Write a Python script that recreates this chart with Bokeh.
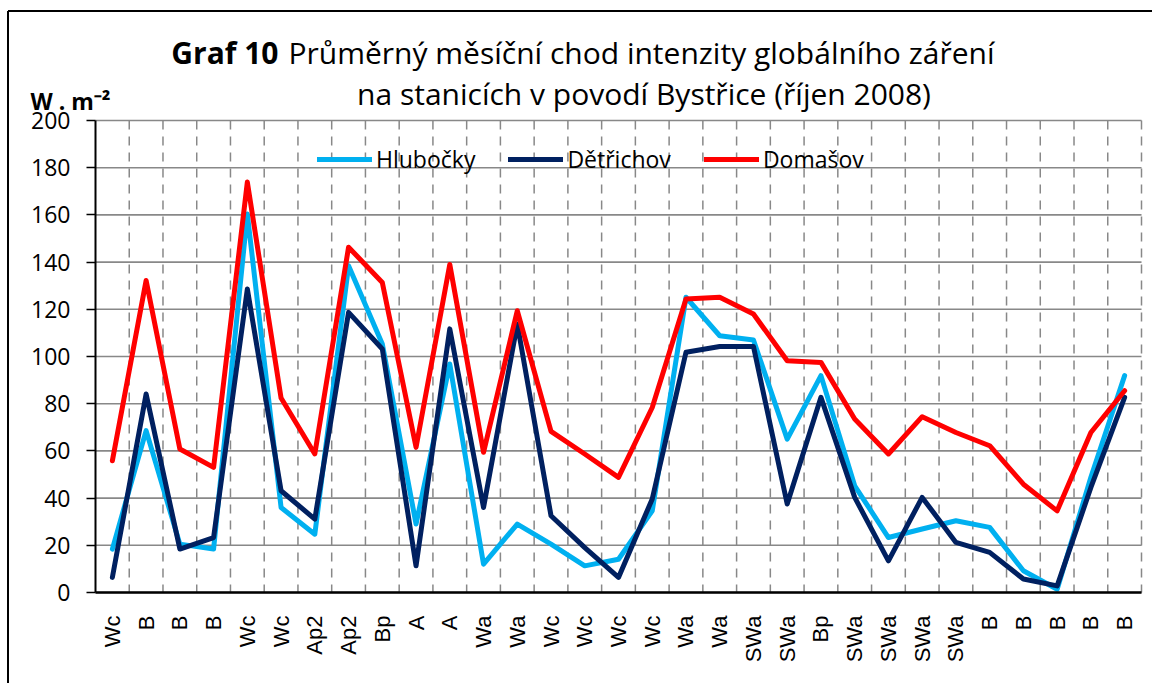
from bokeh.plotting import figure
from bokeh.models import Range1d, FixedTicker, Legend, LegendItem, ColumnDataSource
from bokeh.core.properties import value
from bokeh.embed import file_html
from bokeh.resources import INLINE
import math

# ---- data -------------------------------------------------------------
days = list(range(1, 32))
weather_types = ["Wc", "B", "B", "B", "Wc", "Wc", "Ap2", "Ap2", "Bp", "A", "A",
                 "Wa", "Wa", "Wc", "Wc", "Wc", "Wc", "Wa", "Wa", "SWa", "SWa",
                 "Bp", "SWa", "SWa", "SWa", "SWa", "B", "B", "B", "B", "B"]
hlubocky = [18.4, 68.6, 20.5, 18.4, 160.4, 36.0, 24.7, 138.5, 105.3, 29.0, 96.8,
            12.0, 29.0, 20.5, 11.3, 14.1, 34.6, 125.1, 108.8, 107.0, 65.0,
            91.9, 45.2, 23.3, 26.9, 30.4, 27.6, 9.2, 1.4, 48.8, 91.9]
detrichov = [6.4, 84.1, 18.4, 23.3, 128.6, 43.1, 31.1, 118.7, 103.2, 11.3, 111.7,
             36.0, 113.8, 32.5, 19.0, 6.4, 39.6, 101.8, 104.2, 104.2, 37.5,
             82.7, 40.3, 13.4, 40.3, 21.2, 17.0, 5.7, 2.8, 44.5, 82.7]
domasov = [55.8, 132.2, 60.8, 53.0, 173.9, 82.4, 58.7, 146.3, 131.4, 61.5, 139.0,
           59.4, 119.4, 68.3, 58.7, 48.8, 78.4, 124.4, 125.1, 118.0, 98.2,
           97.5, 73.5, 58.7, 74.5, 67.8, 62.2, 45.9, 34.6, 67.8, 85.5]
series_names = ["Hlubočky", "Dětřichov", "Domašov"]
series_colors = ["#00B0F0", "#002060", "#FF0000"]
y_ticks = list(range(0, 201, 20))

title_bold = "Graf 10"
title_rest = "Průměrný měsíční chod intenzity globálního záření"
title_line2 = "na stanicích v povodí Bystřice (říjen 2008)"
y_unit = "W . m⁻²"

# ---- layout (pixels) --------------------------------------------------
W, H = 1152, 683
FL, FR, FT, FB = 95, 1141, 120, 592       # plot-area box inside the canvas
n = len(days)
YMAX = 200.0
pxx = (FR - FL) / n
pxy = (FB - FT) / YMAX

def dx(px):
    return (px - FL) / pxx

def dy(py):
    return (FB - py) / pxy

p = figure(width=W, height=H, output_backend="svg", toolbar_location=None,
           x_range=Range1d(dx(0), dx(W)), y_range=Range1d(dy(H), dy(0)),
           min_border_left=0, min_border_right=0, min_border_top=0,
           min_border_bottom=0)
p.outline_line_color = None
p.background_fill_color = "white"
p.border_fill_color = "white"
p.xgrid.visible = False
p.ygrid.visible = False

x_centers = [d - 0.5 for d in days]

# outer chart border (left and top)
bx, by = dx(7.5), dy(10.5)
p.segment(x0=[bx, bx], y0=[by, by], x1=[bx, dx(W + 5)], y1=[dy(H + 5), by],
          line_color="black", line_width=2)

# grid lines
p.segment(x0=[0] * len(y_ticks), y0=y_ticks, x1=[n] * len(y_ticks), y1=y_ticks,
          line_color="#888888", line_width=1.6)
p.segment(x0=days, y0=[YMAX] * n, x1=days, y1=[0] * n,
          line_color="#888888", line_width=1.5, line_dash="9 7")

# axes
p.xaxis.fixed_location = 0
p.xaxis.bounds = (0, n)
p.xaxis.ticker = FixedTicker(ticks=x_centers)
p.xaxis.major_label_overrides = {x: lab for x, lab in zip(x_centers, weather_types)}
p.xaxis.major_label_orientation = math.pi / 2
p.xaxis.major_tick_line_color = None
p.xaxis.minor_tick_line_color = None
p.xaxis.axis_line_color = "black"
p.xaxis.axis_line_width = 2.5
p.xaxis.major_label_text_font = "Liberation Sans"
p.xaxis.major_label_text_font_size = "22px"
p.xaxis.major_label_text_color = "black"
p.xaxis.major_label_standoff = 17

p.yaxis.fixed_location = 0
p.yaxis.bounds = (0, YMAX)
p.yaxis.ticker = FixedTicker(ticks=y_ticks)
p.yaxis.minor_tick_line_color = None
p.yaxis.major_tick_in = 0
p.yaxis.major_tick_out = 9
p.yaxis.major_tick_line_width = 1.5
p.yaxis.major_tick_line_color = "black"
p.yaxis.axis_line_color = "black"
p.yaxis.axis_line_width = 2
p.yaxis.major_label_text_font = "Open Sans"
p.yaxis.major_label_text_font_size = "23px"
p.yaxis.major_label_text_color = "black"
p.yaxis.major_label_standoff = 16

# data lines
renderers = []
for vals, col in zip([hlubocky, detrichov, domasov], series_colors):
    r = p.line(x_centers, vals, line_color=col, line_width=5,
               line_join="round", line_cap="round")
    renderers.append(r)

legend = Legend(items=[LegendItem(label=nm, renderers=[r])
                       for nm, r in zip(series_names, renderers)],
                orientation="horizontal", location=(317, H - 175),
                glyph_width=55, glyph_height=20, label_standoff=4, spacing=33,
                padding=0, margin=0, border_line_color=None,
                background_fill_alpha=0, label_text_font="Open Sans",
                label_text_font_size="23px", label_text_color="black")
p.add_layout(legend, "center")

# titles
titles = ColumnDataSource(dict(
    x=[dx(278), dx(288), dx(643.5)],
    y=[dy(52), dy(52), dy(93)],
    text=[title_bold, title_rest, title_line2],
    align=["right", "left", "center"],
    style=["bold", "normal", "normal"],
))
p.text(x="x", y="y", text="text", source=titles, text_align="align",
       text_font_style="style", text_baseline=value("alphabetic"),
       text_font=value("Open Sans"), text_font_size=value("30px"),
       text_color=value("black"))
p.text(x=[dx(30)], y=[dy(100)], text=[y_unit], text_align=value("left"),
       text_baseline=value("alphabetic"), text_font=value("Open Sans"),
       text_font_style=value("bold"), text_font_size=value("23px"),
       text_color=value("black"))

open("out.html", "w").write(file_html(p, INLINE))
